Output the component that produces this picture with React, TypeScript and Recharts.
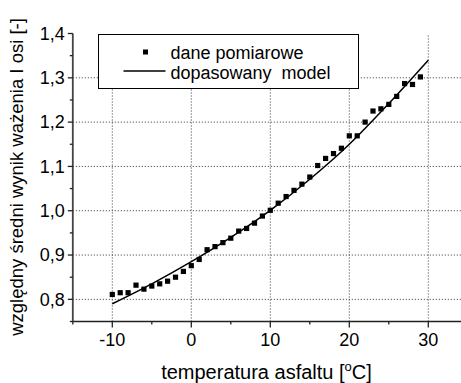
import React from 'react';
import { ComposedChart, XAxis, YAxis, Scatter, Line, ReferenceLine, Legend } from 'recharts';

const temperatures = [-10, -9, -8, -7, -6, -5, -4, -3, -2, -1, 0, 1, 2, 3, 4, 5, 6, 7, 8, 9, 10, 11, 12, 13, 14, 15, 16, 17, 18, 19, 20, 21, 22, 23, 24, 25, 26, 27, 28, 29];
const measured = [0.811, 0.815, 0.815, 0.832, 0.823, 0.830, 0.835, 0.841, 0.850, 0.863, 0.876, 0.890, 0.912, 0.919, 0.928, 0.938, 0.954, 0.960, 0.972, 0.988, 1.001, 1.017, 1.032, 1.046, 1.060, 1.076, 1.102, 1.118, 1.129, 1.141, 1.169, 1.169, 1.200, 1.225, 1.230, 1.240, 1.258, 1.287, 1.285, 1.302];

const modelTemps = [-10, -5, 0, 5, 10, 15, 20, 25, 30];
const modelValues = [0.790, 0.835, 0.885, 0.940, 1.001, 1.071, 1.150, 1.242, 1.340];

const xTicks = [-15, -10, -5, 0, 5, 10, 15, 20, 25, 30, 35];
const yTicks = [0.75, 0.8, 0.85, 0.9, 0.95, 1.0, 1.05, 1.1, 1.15, 1.2, 1.25, 1.3, 1.35, 1.4];
const xGrid = [-10, 0, 10, 20, 30];
const yGrid = [0.8, 0.9, 1.0, 1.1, 1.2, 1.3];

const seriesNames = ['dane pomiarowe', 'dopasowany  model'];
const xTitle = 'temperatura asfaltu [';
const yTitle = 'względny średni wynik ważenia I osi [-]';

const measuredData = temperatures.map((t, i) => ({ t, v: measured[i] }));
const modelData = modelTemps.map((t, i) => ({ t, m: modelValues[i] }));

const FONT = '"Liberation Sans", Arial, sans-serif';
const AXIS = '#222';

const YTick = (props: any) => {
  const { x, y, payload } = props;
  const v = payload.value as number;
  const major = Math.round(v * 100) % 10 === 0;
  return (
    <g>
      <line x1={x - (major ? 5 : 3)} x2={x} y1={y} y2={y} stroke={AXIS} strokeWidth={1.3} />
      {major && (
        <text x={x - 8} y={y + 6.3} textAnchor="end" fontSize={18} fontFamily={FONT} fill="#000">
          {v.toFixed(1).replace('.', ',')}
        </text>
      )}
    </g>
  );
};

const XTick = (props: any) => {
  const { x, y, payload } = props;
  const v = payload.value as number;
  const major = v % 10 === 0;
  return (
    <g>
      <line x1={x} x2={x} y1={y} y2={y + (major ? 6 : 3)} stroke={AXIS} strokeWidth={1.3} />
      {major && (
        <text x={x} y={y + 24} textAnchor="middle" fontSize={18} fontFamily={FONT} fill="#000">
          {String(v)}
        </text>
      )}
    </g>
  );
};

const XTitle = () => (
  <text x={266.5} y={379} textAnchor="middle" fontSize={20} fontFamily={FONT} fill="#000">
    {xTitle}
    <tspan fontSize={13} dy={-8}>o</tspan>
    <tspan fontSize={20} dy={8}>C]</tspan>
  </text>
);

const YTitle = () => (
  <text
    x={0}
    y={0}
    transform="translate(23,177) rotate(-90)"
    textAnchor="middle"
    fontSize={18.5}
    fontFamily={FONT}
    fill="#000"
  >
    {yTitle}
  </text>
);

const Square = (props: any) => {
  const { cx, cy } = props;
  if (cx == null || cy == null) return null;
  return <rect x={cx - 2.6} y={cy - 2.6} width={5.2} height={5.2} fill="#000" />;
};

const LegendBox = () => (
  <div
    style={{
      width: 261,
      height: 55,
      boxSizing: 'border-box',
      border: '1px solid #000',
      background: '#fff',
    }}
  >
    <svg width={259} height={53} style={{ display: 'block' }}>
      <rect x={44} y={14.5} width={5} height={5} fill="#000" />
      <text x={71.5} y={23.5} fontSize={18} fontFamily={FONT} fill="#000">
        {seriesNames[0]}
      </text>
      <line x1={24.5} x2={66.5} y1={36} y2={36} stroke="#000" strokeWidth={1.5} />
      <text x={71.5} y={43.5} fontSize={18} fontFamily={FONT} fill="#000" style={{ whiteSpace: 'pre' }}>
        {seriesNames[1]}
      </text>
    </svg>
  </div>
);

export default function App() {
  return (
    <div
      style={{
        position: 'fixed',
        left: 0,
        top: 0,
        width: 461,
        height: 383,
        overflow: 'hidden',
        background: '#fff',
      }}
    >
      <ComposedChart
        width={480}
        height={383}
        margin={{ top: 33.5, right: 12.2, bottom: 0, left: 0 }}
      >
        <XAxis
          dataKey="t"
          type="number"
          domain={[-15, 35]}
          ticks={xTicks}
          interval={0}
          allowDataOverflow
          height={61.5}
          tickSize={0}
          tickMargin={0}
          tick={<XTick />}
          axisLine={{ stroke: AXIS, strokeWidth: 1.5 }}
          tickLine={false}
          label={<XTitle />}
        />
        <YAxis
          type="number"
          domain={[0.75, 1.4]}
          ticks={yTicks}
          interval={0}
          allowDataOverflow
          width={72.8}
          tickSize={0}
          tickMargin={0}
          tick={<YTick />}
          axisLine={{ stroke: '#444', strokeWidth: 1.8 }}
          tickLine={false}
          label={<YTitle />}
        />
        {xGrid.map((g) => (
          <ReferenceLine key={'x' + g} x={g} stroke="#333" strokeDasharray="1 2" strokeWidth={1} />
        ))}
        {yGrid.map((g) => (
          <ReferenceLine key={'y' + g} y={g} stroke="#333" strokeDasharray="1 2" strokeWidth={1} />
        ))}
        <Line
          data={modelData}
          dataKey="m"
          type="monotone"
          stroke="#000"
          strokeWidth={1.5}
          dot={false}
          activeDot={false}
          isAnimationActive={false}
        />
        <Scatter
          data={measuredData}
          dataKey="v"
          shape={<Square />}
          isAnimationActive={false}
        />
        <Legend
          layout="vertical"
          align="center"
          verticalAlign="middle"
          wrapperStyle={{ left: 97.5, top: 34, width: 261, height: 55 }}
          content={() => <LegendBox />}
        />
      </ComposedChart>
    </div>
  );
}
